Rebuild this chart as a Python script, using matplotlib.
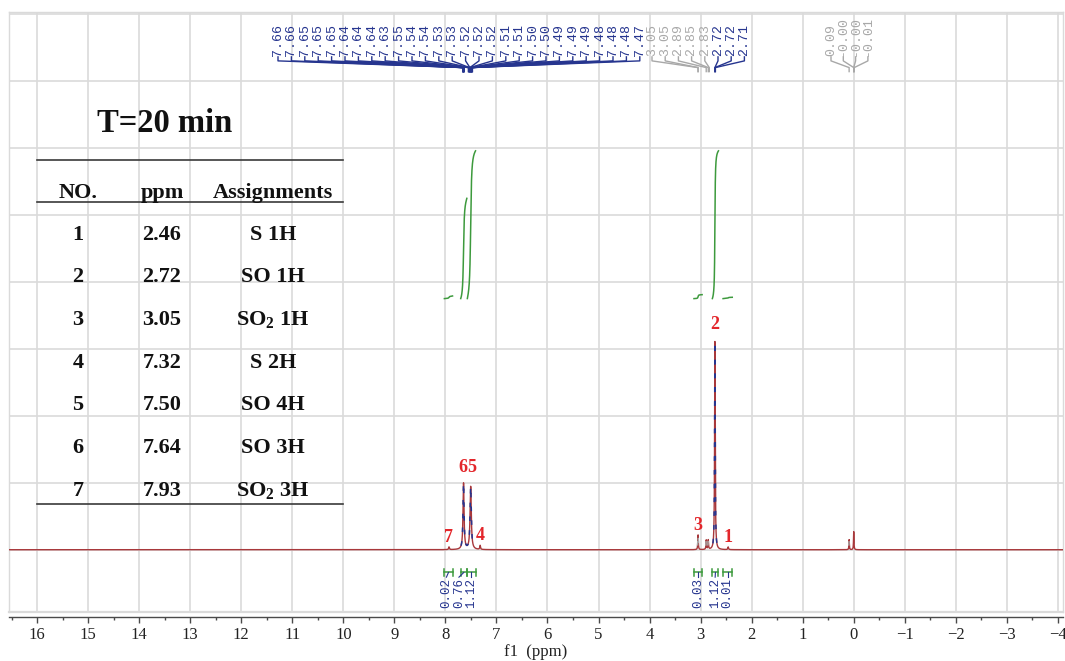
import numpy as np
import matplotlib
matplotlib.use("Agg")
import matplotlib.pyplot as plt
from matplotlib.ticker import MultipleLocator

plt.rcParams['mathtext.fontset'] = 'custom'
plt.rcParams['mathtext.rm'] = 'Liberation Serif:bold'
plt.rcParams['mathtext.it'] = 'Liberation Serif:bold'
plt.rcParams['mathtext.bf'] = 'Liberation Serif:bold'
plt.rcParams['mathtext.default'] = 'rm'

# ---- spectrum lines: chemical shift (ppm), height, half width ----
peak_ppm = [7.93, 7.645, 7.505, 7.32, 3.05, 2.89, 2.85, 2.72, 2.46, 0.09, 0.00]
peak_height = [0.04, 0.99, 0.94, 0.06, 0.22, 0.14, 0.14, 3.11, 0.04, 0.15, 0.27]
peak_hwhm = [0.008, 0.012, 0.014, 0.008, 0.006, 0.006, 0.006, 0.007, 0.008, 0.005, 0.005]

# ---- numbered assignments drawn above the peaks ----
assign_no = ['7', '6', '5', '4', '3', '2', '1']
assign_ppm = [7.93, 7.64, 7.50, 7.32, 3.05, 2.72, 2.46]

# ---- peak-pick labels ----
pick_group1 = ['7.66', '7.66', '7.65', '7.65', '7.65', '7.64', '7.64', '7.64', '7.63',
               '7.55', '7.54', '7.54', '7.53', '7.53', '7.52', '7.52', '7.52', '7.51',
               '7.51', '7.50', '7.50', '7.49', '7.49', '7.49', '7.48', '7.48', '7.48', '7.47']
pick_group2 = ['3.05', '3.05', '2.89', '2.85', '2.83', '2.72', '2.72', '2.71']
pick_group2_navy = [False, False, False, False, False, True, True, True]
pick_group3 = ['0.09', '-0.00', '-0.00', '-0.01']

# ---- integrals: region start, region end (ppm), value ----
int_start = [8.02, 7.70, 7.57, 3.13, 2.77, 2.56]
int_end = [7.86, 7.58, 7.41, 2.97, 2.65, 2.38]
int_value = [0.02, 0.76, 1.12, 0.03, 1.12, 0.01]

# ---- assignment table ----
title_text = "T=20 min"
table_header = ['NO.', 'ppm', 'Assignments']
table_no = ['1', '2', '3', '4', '5', '6', '7']
table_ppm = ['2.46', '2.72', '3.05', '7.32', '7.50', '7.64', '7.93']
table_assign = ['S 1H', 'SO 1H', 'SO$_2$ 1H', 'S 2H', 'SO 4H', 'SO 3H', 'SO$_2$ 3H']

RED = '#a8383b'
NAVY = '#26358f'
GRAY = '#a8a8a8'
GREEN = '#3d9a3d'
LABEL_RED = '#e3262b'
GRID = '#dadada'
SERIF = 'Liberation Serif'
MONO = 'Liberation Mono'

fig = plt.figure(figsize=(10.65, 6.61), dpi=100)
W, H = 1065, 661
ax = fig.add_axes([9 / W, 49 / H, 1054 / W, 600 / H])
ax.set_xlim(16.55, -4.1)
ax.set_ylim(-0.93, 8.03)

# grid and frame
ax.set_axisbelow(True)
ax.xaxis.set_major_locator(MultipleLocator(1))
ax.xaxis.set_minor_locator(MultipleLocator(0.5))
ax.set_yticks(np.arange(0, 9))
ax.grid(True, which='major', color=GRID, lw=1.2)
ax.tick_params(axis='y', left=False, labelleft=False)
for s in ('left', 'right', 'top'):
    ax.spines[s].set_color(GRID)
    ax.spines[s].set_linewidth(1.0)
ax.spines['bottom'].set_position(('outward', 3.6))
ax.spines['bottom'].set_color('#4a4a4a')
ax.spines['bottom'].set_linewidth(1.0)
ax.axhline(ax.get_ylim()[0], color=GRID, lw=1.6, clip_on=False)
ax.tick_params(axis='x', which='major', direction='out', length=4, width=1.0,
               color='#4a4a4a', labelsize=12, labelcolor='#222222', pad=3)
ax.tick_params(axis='x', which='minor', direction='out', length=2.5, width=1.0,
               color='#4a4a4a')
for lab in ax.get_xticklabels():
    lab.set_fontfamily(SERIF)
ax.set_xlabel('f1  (ppm)', fontfamily=SERIF, fontsize=12, color='#222222', labelpad=1)

# synthetic spectrum from Lorentzian lines
x = np.linspace(16.55, -4.1, 60000)
spec = np.zeros_like(x)
for p, h, w in zip(peak_ppm, peak_height, peak_hwhm):
    spec += h / (1.0 + ((x - p) / w) ** 2)

ax.plot(x, spec, color=RED, lw=1.0, zorder=3)


def overlay(lo, hi, color):
    m = (x <= hi) & (x >= lo) & (spec > 0.06)
    yy = np.where(m, spec, np.nan)
    ax.plot(x, yy, color=color, lw=1.1, zorder=4, dashes=(3, 6))


overlay(7.40, 7.70, NAVY)
overlay(2.68, 2.76, NAVY)
overlay(2.80, 3.10, GRAY)
overlay(0.05, 0.12, GRAY)

# assignment numbers
for lab, p in zip(assign_no, assign_ppm):
    near = np.abs(x - p) < 0.03
    top = spec[near].max()
    if lab in ('6', '5'):
        xm = 0.5 * (assign_ppm[1] + assign_ppm[2])
        ha = 'right' if lab == '6' else 'left'
        ax.text(xm, 1.10, lab, ha=ha, va='bottom', color=LABEL_RED, fontsize=13,
                fontweight='bold', fontfamily=SERIF, zorder=6)
    else:
        pad = 0.12 if top > 2 else 0.02
        ax.text(p, top + pad, lab, ha='center', va='bottom', color=LABEL_RED, fontsize=13,
                fontweight='bold', fontfamily=SERIF, zorder=6)

inv = ax.transData.inverted()


def px2ppm(px):
    return inv.transform((px, 0))[0]


def ppm2px(p):
    return ax.transData.transform((p, 0))[0]


# integrals
int_base = 3.75
int_scale = 1.97
centers_px = [ppm2px(0.5 * (a + b)) for a, b in zip(int_start, int_end)]
# spread the value labels so that neighbours never collide
label_px = list(centers_px)
min_gap = 12.5
for i in range(len(label_px) - 2, -1, -1):
    if label_px[i + 1] - label_px[i] < min_gap:
        label_px[i] = label_px[i + 1] - min_gap

yb = -0.34
for a, b, v, cpx, lpx in zip(int_start, int_end, int_value, centers_px, label_px):
    m = (x <= a) & (x >= b)
    seg = spec[m]
    cum = np.cumsum(seg)
    cum = cum / cum[-1] * v * int_scale + int_base
    ax.plot(x[m], cum, color=GREEN, lw=1.1, zorder=4)
    # bracket below the baseline
    ax.plot([a, b], [yb, yb], color=GREEN, lw=1.1, zorder=4)
    for e in (a, b):
        ax.plot([e, e], [yb - 0.05, yb + 0.05], color=GREEN, lw=1.1, zorder=4)
    xc = px2ppm(cpx)
    xl = px2ppm(lpx)
    ax.plot([xc, xl], [yb, -0.41], color=NAVY, lw=0.8, zorder=4)
    ax.text(xl, -0.42, f'{v:.2f}', rotation=90, ha='center', va='top', color=NAVY,
            fontsize=9, fontfamily=MONO, zorder=5)


# peak-pick labels with connector trees
def pick_labels(labels, first_px, step_px, colors):
    for i, (lab, c) in enumerate(zip(labels, colors)):
        xl = px2ppm(first_px + i * step_px)
        p = float(lab)
        ax.text(xl, 7.38, lab, rotation=90, ha='center', va='bottom', color=c,
                fontsize=9.5, fontfamily=MONO, zorder=5)
        ax.plot([xl, xl, p, p], [7.36, 7.30, 7.20, 7.14], color=c, lw=1.0, zorder=4)


pick_labels(pick_group1, 278, 13.4, [NAVY] * len(pick_group1))
pick_labels(pick_group2, 652, 13.2, [NAVY if n else GRAY for n in pick_group2_navy])
pick_labels(pick_group3, 831, 12.3, [GRAY] * len(pick_group3))

# assignment table in figure pixel coordinates
tab = fig.add_axes([0, 0, 1, 1], facecolor='none')
tab.set_xlim(0, W)
tab.set_ylim(H, 0)
tab.axis('off')
tab.text(165, 132, title_text, ha='center', va='baseline', fontsize=23.5,
         fontweight='bold', fontfamily=SERIF, color='#111111')
for yl in (160, 202, 504):
    tab.plot([37, 343], [yl, yl], color='#3a3a3a', lw=1.2)
col_x = [78, 162, 273]
for cx, t in zip(col_x, table_header):
    tab.text(cx, 198, t, ha='center', va='baseline', fontsize=16, fontweight='bold',
             fontfamily=SERIF, color='#111111')
row_base = [240, 282.5, 325, 368, 410.5, 453, 496]
for yrow, n, pp, asg in zip(row_base, table_no, table_ppm, table_assign):
    tab.text(col_x[0], yrow, n, ha='center', va='baseline', fontsize=16, fontweight='bold',
             fontfamily=SERIF, color='#111111')
    tab.text(col_x[1], yrow, pp, ha='center', va='baseline', fontsize=16, fontweight='bold',
             fontfamily=SERIF, color='#111111')
    tab.text(col_x[2], yrow, asg, ha='center', va='baseline', fontsize=16, fontweight='bold',
             fontfamily=SERIF, color='#111111')

fig.savefig('out.png', dpi=100)
